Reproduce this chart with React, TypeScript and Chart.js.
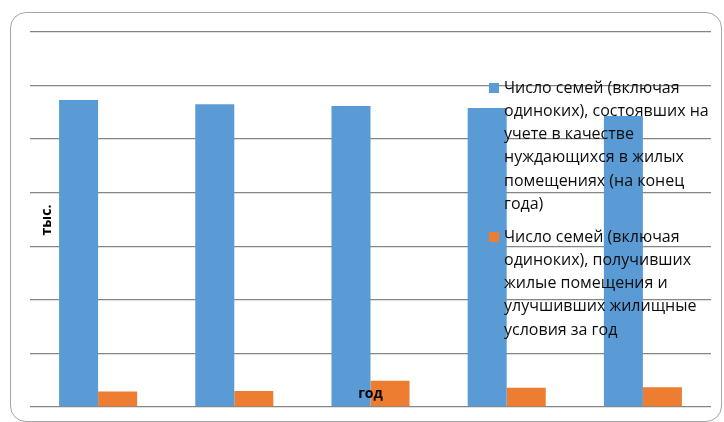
import React, { useEffect, useRef } from "react";
import { Chart, registerables } from "chart.js";

Chart.register(...registerables);

// Five reporting years (axis labels are not printed on the chart)
const categories = ["1", "2", "3", "4", "5"];

// Families registered as needing housing (end of year), thousands
const registeredFamilies = [57.3, 56.5, 56.2, 55.8, 54.3];
// Families that received housing / improved living conditions during the year, thousands
const housedFamilies = [2.9, 3.0, 4.9, 3.6, 3.7];

const legendLinesRegistered = [
  "Число семей (включая",
  "одиноких), состоявших на",
  "учете в качестве",
  "нуждающихся в жилых",
  "помещениях (на конец",
  "года)",
];
const legendLinesHoused = [
  "Число семей (включая",
  "одиноких), получивших",
  "жилые помещения и",
  "улучшивших жилищные",
  "условия за год",
];

const yAxisTitle = "тыс.";
const xAxisTitle = "год";

const BLUE = "#5B9BD5";
const ORANGE = "#ED7D31";
const FONT = "'Open Sans', 'Noto Sans', sans-serif";

// Draws the wrapped legend and the axis titles on top of the bars
const overlayPlugin = {
  id: "overlay",
  afterDatasetsDraw(chart: any) {
    const { ctx, chartArea } = chart;
    const lineH = 23.3;
    const textX = chartArea.right - 207;
    const boxX = textX - 15;
    const groups = [
      { lines: legendLinesRegistered, color: chart.data.datasets[0].backgroundColor, y0: 88 },
      { lines: legendLinesHoused, color: chart.data.datasets[1].backgroundColor, y0: 237 },
    ];
    ctx.save();
    ctx.font = `16px ${FONT}`;
    ctx.textBaseline = "middle";
    ctx.textAlign = "left";
    for (const g of groups) {
      ctx.fillStyle = g.color;
      ctx.fillRect(boxX, g.y0 - 5, 10, 10);
      ctx.fillStyle = "#0d0d0d";
      g.lines.forEach((line: string, i: number) => {
        ctx.fillText(line, textX, g.y0 + i * lineH);
      });
    }

    ctx.fillStyle = "#000";
    ctx.font = `bold 14px ${FONT}`;
    ctx.textAlign = "center";
    ctx.fillText(xAxisTitle, (chartArea.left + chartArea.right) / 2, chartArea.bottom - 13);

    ctx.translate(chartArea.left + 17, 220);
    ctx.rotate(-Math.PI / 2);
    ctx.fillText(yAxisTitle, 0, 0);
    ctx.restore();
  },
};

export default function App() {
  const canvasRef = useRef<HTMLCanvasElement | null>(null);

  useEffect(() => {
    if (!canvasRef.current) return;
    const chart = new Chart(canvasRef.current, {
      type: "bar",
      data: {
        labels: categories,
        datasets: [
          {
            label: legendLinesRegistered.join(" "),
            data: registeredFamilies,
            backgroundColor: BLUE,
            categoryPercentage: 0.573,
            barPercentage: 1,
          },
          {
            label: legendLinesHoused.join(" "),
            data: housedFamilies,
            backgroundColor: ORANGE,
            categoryPercentage: 0.573,
            barPercentage: 1,
          },
        ],
      },
      options: {
        responsive: false,
        animation: false,
        layout: { padding: { left: 30, right: 13, top: 32, bottom: 7 } },
        plugins: {
          legend: { display: false },
          tooltip: { enabled: false },
        },
        scales: {
          x: {
            grid: { display: false },
            border: { display: false },
            ticks: { display: false },
          },
          y: {
            min: 0,
            max: 70,
            ticks: { display: false, stepSize: 10 },
            grid: { color: "#858585", lineWidth: 1.3, drawTicks: false },
            border: { display: false },
          },
        },
      },
      plugins: [overlayPlugin],
    });
    return () => chart.destroy();
  }, []);

  return (
    <div style={{ position: "fixed", left: 0, top: 0, width: 724, height: 422, background: "#fff" }}>
      <div
        style={{
          position: "absolute",
          left: 10,
          top: 12,
          width: 712,
          height: 410,
          boxSizing: "border-box",
          border: "1px solid #a6a6a6",
          borderRadius: 16,
        }}
      />
      <canvas ref={canvasRef} width={724} height={422} style={{ position: "absolute", left: 0, top: 0 }} />
    </div>
  );
}
